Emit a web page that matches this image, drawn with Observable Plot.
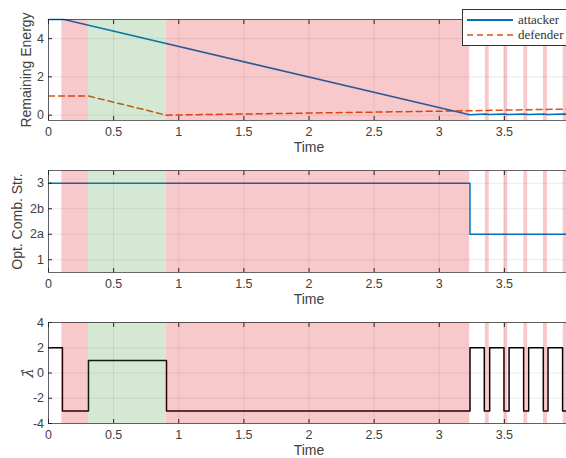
<!DOCTYPE html>
<html>
<head>
<meta charset="utf-8">
<script src="https://cdn.jsdelivr.net/npm/d3@7"></script>
<script src="https://cdn.jsdelivr.net/npm/@observablehq/plot@0.6"></script>
<style>
  html, body { margin: 0; padding: 0; background: #fff; overflow: hidden; width: 566px; height: 458px; }
  #wrap { position: relative; width: 570px; }
  #wrap svg { display: block; }
  #legend { position: absolute; left: 462px; top: 9px; width: 120px; height: 35px; border: 0.8px solid #333; background: #fff;
            font-family: "Liberation Serif", "DejaVu Serif", serif; font-size: 13px; color: #333; }
  #legend .row { position: absolute; left: 0; height: 16px; display: flex; align-items: center; }
  #legend svg { display: inline-block; margin-left: 4px; margin-right: 5px; }
</style>
</head>
<body>
<div id="wrap"></div>
<script>
// ---- data ----
const xTicks = [0, 0.5, 1, 1.5, 2, 2.5, 3, 3.5, 4];
const xTickLabels = ["0", "0.5", "1", "1.5", "2", "2.5", "3", "3.5", "4"];

// shaded regions (time intervals)
const regionStart = [0.102, 0.307, 0.906, 3.354, 3.497, 3.650, 3.800, 3.952];
const regionEnd   = [0.307, 0.906, 3.234, 3.384, 3.526, 3.679, 3.831, 4.0];
const regionKind  = ["red", "green", "red", "red", "red", "red", "red", "red"];

// panel 1: remaining energy
const attackerT = [0, 0.12, 3.234, 3.354, 3.384, 3.497, 3.526, 3.650, 3.679, 3.800, 3.831, 3.952, 4.0];
const attackerE = [5, 5, 0.02, 0.06, 0.03, 0.06, 0.03, 0.06, 0.03, 0.06, 0.03, 0.06, 0.05];
const defenderT = [0, 0.307, 0.906, 2.0, 3.234, 4.0];
const defenderE = [1, 1, 0, 0.11, 0.23, 0.32];
const energyTicks = [0, 2, 4];

// panel 2: optimal combat strategy
const optT = [0, 3.236, 4.0];
const optV = [4, 2, 2];
const optTicks = [1, 2, 3, 4];
const optTickLabels = ["1", "2a", "2b", "3"];

// panel 3: lambda hat
const lambdaT = [0, 0.107, 0.307, 0.906, 3.236, 3.346, 3.387, 3.497, 3.536, 3.648, 3.686, 3.799, 3.835, 3.947, 4.0];
const lambdaV = [2, -3, 1, -3, 2, -3, 2, -3, 2, -3, 2, -3, 2, -3, -3];
const lambdaTicks = [-4, -2, 0, 2, 4];

// ---- build ----
const regionColors = {red: "rgb(221,0,7)", green: "rgb(50,145,50)"};
const regions = regionStart.map((s, i) => ({start: s, end: regionEnd[i], fill: regionColors[regionKind[i]]}));
const attacker = attackerT.map((t, i) => ({t, v: attackerE[i]}));
const defender = defenderT.map((t, i) => ({t, v: defenderE[i]}));
const opt = optT.map((t, i) => ({t, v: optV[i]}));
const lambda = lambdaT.map((t, i) => ({t, v: lambdaV[i]}));

const xLabelMap = new Map(xTicks.map((d, i) => [d, xTickLabels[i]]));
const optLabelMap = new Map(optTicks.map((d, i) => [d, optTickLabels[i]]));

const AX = "#262626";
const TXT = "#404040";

function panel({height, marginTop, marginBottom, yDomain, yTicks, yFormat, dataMarks, ylabel, ylabelDx, ylabelFont}) {
  return Plot.plot({
    width: 570, height, marginLeft: 48, marginRight: 1, marginTop, marginBottom,
    style: {fontFamily: "'Liberation Sans', Helvetica, Arial, sans-serif", fontSize: "12px", color: TXT, background: "transparent", overflow: "visible"},
    x: {domain: [0, 4]},
    y: {domain: yDomain},
    color: {type: "identity"},
    marks: [
      Plot.gridX(xTicks, {stroke: "#000", strokeOpacity: 0.12, strokeWidth: 0.7}),
      Plot.gridY(yTicks, {stroke: "#000", strokeOpacity: 0.12, strokeWidth: 0.7}),
      ...dataMarks,
      Plot.rect(regions, {x1: "start", x2: "end", fill: "fill", fillOpacity: 0.21}),
      Plot.frame({stroke: AX, strokeWidth: 0.7}),
      Plot.axisX(xTicks, {anchor: "bottom", tickSize: -4, tickPadding: 11, tickFormat: d => xLabelMap.get(d), label: null, stroke: AX, fill: TXT, fontSize: 12.5}),
      Plot.axisX(xTicks, {anchor: "top", tickSize: -4, tickFormat: () => "", label: null, stroke: AX}),
      Plot.axisY(yTicks, {anchor: "left", tickSize: -4, tickPadding: 8.5, tickFormat: yFormat, label: null, stroke: AX, fill: TXT, fontSize: 12.5}),
      Plot.axisY(yTicks, {anchor: "right", tickSize: -4, tickFormat: () => "", label: null, stroke: AX}),
      Plot.text(["Time"], {frameAnchor: "bottom", lineAnchor: "middle", dy: 27, fontSize: 14, fill: TXT}),
      Plot.text([ylabel], {frameAnchor: "left", textAnchor: "middle", lineAnchor: "middle", rotate: -90, dx: ylabelDx, fontSize: ylabelFont.size, fontFamily: ylabelFont.family, fontStyle: ylabelFont.style, fill: TXT})
    ]
  });
}

const sans = {size: 14, family: "'Liberation Sans', Helvetica, Arial, sans-serif", style: "normal"};

const p1 = panel({
  height: 155, marginTop: 19, marginBottom: 35,
  yDomain: [-0.28, 5], yTicks: energyTicks, yFormat: d => String(d),
  dataMarks: [
    Plot.line(defender, {x: "t", y: "v", stroke: "#D95319", strokeWidth: 1.5, strokeDasharray: "6,4"}),
    Plot.line(attacker, {x: "t", y: "v", stroke: "#0072BD", strokeWidth: 1.6})
  ],
  ylabel: "Remaining Energy", ylabelDx: -22, ylabelFont: sans
});

const p2 = panel({
  height: 150, marginTop: 15, marginBottom: 33,
  yDomain: [0.5, 4.5], yTicks: optTicks, yFormat: d => optLabelMap.get(d),
  dataMarks: [
    Plot.line(opt, {x: "t", y: "v", stroke: "#0072BD", strokeWidth: 1.5, curve: "step-after"})
  ],
  ylabel: "Opt. Comb. Str.", ylabelDx: -31, ylabelFont: sans
});

const p3 = panel({
  height: 153, marginTop: 17, marginBottom: 35,
  yDomain: [-4, 4], yTicks: lambdaTicks, yFormat: d => String(d),
  dataMarks: [
    Plot.line(lambda, {x: "t", y: "v", stroke: "#000", strokeWidth: 1.5, curve: "step-after"})
  ],
  ylabel: "\u03BB\u0302", ylabelDx: -20, ylabelFont: {size: 15, family: "'DejaVu Serif', serif", style: "italic"}
});

const wrap = document.getElementById("wrap");
wrap.appendChild(p1);
wrap.appendChild(p2);
wrap.appendChild(p3);

// legend
const legend = document.createElement("div");
legend.id = "legend";
legend.innerHTML = `
  <div class="row" style="top:2px"><svg width="46" height="6"><line x1="0" y1="3" x2="46" y2="3" stroke="#0072BD" stroke-width="1.8"/></svg><span>attacker</span></div>
  <div class="row" style="top:17px"><svg width="46" height="6"><line x1="0" y1="3" x2="46" y2="3" stroke="#D95319" stroke-width="1.6" stroke-dasharray="6,4"/></svg><span>defender</span></div>`;
wrap.appendChild(legend);
</script>
</body>
</html>
